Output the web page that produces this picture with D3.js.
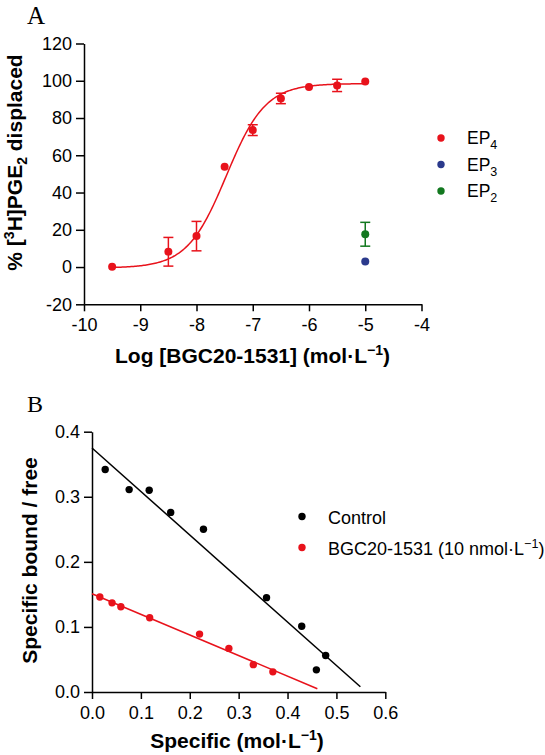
<!DOCTYPE html>
<html><head><meta charset="utf-8">
<script src="https://cdn.jsdelivr.net/npm/d3@7"></script>
<style>body{margin:0;background:#fff}svg{display:block}</style>
</head><body>
<script>
// ---- Panel A data ----
const ep4LogConc = [-9.5, -8.5, -8, -7.5, -7, -6.5, -6, -5.5, -5];
const ep4Mean    = [0.2, 8.2, 16.6, 53.8, 73.5, 90.5, 96.6, 97.5, 99.6];
const ep4Err     = [0, 7.7, 7.9, 0, 2.9, 2.8, 0, 3.3, 0];
const ep3LogConc = [-5];
const ep3Mean    = [3];
const ep3Err     = [0];
const ep2LogConc = [-5];
const ep2Mean    = [17.6];
const ep2Err     = [6.4];
// 4-parameter logistic fit for EP4 (bottom, top, logEC50, Hill)
const fitA = {bottom: -0.5, top: 98.5, logEC50: -7.47, hill: 1.25, xmin: -9.5, xmax: -5};
const xTicksA = [-10, -9, -8, -7, -6, -5, -4];
const yTicksA = [-20, 0, 20, 40, 60, 80, 100, 120];

// ---- Panel B data ----
const controlX = [0.027, 0.076, 0.117, 0.161, 0.228, 0.357, 0.429, 0.478, 0.459];
const controlY = [0.342, 0.311, 0.310, 0.276, 0.250, 0.145, 0.101, 0.056, 0.034];
const bgcX = [0.016, 0.041, 0.059, 0.118, 0.220, 0.280, 0.330, 0.370];
const bgcY = [0.146, 0.137, 0.131, 0.114, 0.089, 0.067, 0.042, 0.031];
const controlLine = {x: [0, 0.549], y: [0.375, 0.008]};
const bgcLine = {x: [0, 0.461], y: [0.151, 0.005]};
const xTicksB = [0, 0.1, 0.2, 0.3, 0.4, 0.5, 0.6];
const yTicksB = [0, 0.1, 0.2, 0.3, 0.4];

const RED = "#e8121b", BLUE = "#2b3a8c", GREEN = "#12781f", BLACK = "#000";
const FONT = "'Liberation Sans', Arial, sans-serif";
const SERIF = "'Liberation Serif', 'Times New Roman', serif";

const svg = d3.select("body").append("svg").attr("width", 545).attr("height", 755)
  .style("font-family", FONT);

function styleAxis(g) {
  g.selectAll("path.domain").attr("stroke", "#000").attr("stroke-width", 1.5);
  g.selectAll(".tick line").attr("stroke", "#000").attr("stroke-width", 1.5);
  g.selectAll(".tick text").attr("font-size", 18).attr("font-family", FONT).attr("fill", "#000");
}
const minus = d => d < 0 ? "-" + Math.abs(d) : String(d);

// ================= Panel A =================
const xA = d3.scaleLinear().domain([-10, -4]).range([84, 421.5]);
const yA = d3.scaleLinear().domain([-20, 120]).range([304.3, 43.5]);

svg.append("text").attr("x", 27).attr("y", 23.5).attr("font-family", SERIF)
  .attr("font-size", 25).text("A");

const gxA = svg.append("g").attr("transform", `translate(0,${yA(-20)})`)
  .call(d3.axisBottom(xA).tickValues(xTicksA).tickSize(7).tickPadding(7).tickSizeOuter(0));
styleAxis(gxA);
gxA.selectAll(".tick text").text(minus);
const gyA = svg.append("g").attr("transform", `translate(${xA(-10)},0)`)
  .call(d3.axisLeft(yA).tickValues(yTicksA).tickSize(8).tickPadding(4).tickSizeOuter(0));
styleAxis(gyA);
gyA.selectAll(".tick text").text(minus);

// fitted curve
const curvePts = d3.range(0, 201).map(i => {
  const x = fitA.xmin + (fitA.xmax - fitA.xmin) * i / 200;
  const y = fitA.bottom + (fitA.top - fitA.bottom) / (1 + Math.pow(10, (fitA.logEC50 - x) * fitA.hill));
  return [x, y];
});
svg.append("path").attr("d", d3.line().x(d => xA(d[0])).y(d => yA(d[1]))(curvePts))
  .attr("fill", "none").attr("stroke", RED).attr("stroke-width", 1.5);

function drawSeriesA(xs, ms, es, color) {
  const data = xs.map((x, i) => ({x, m: ms[i], e: es[i]}));
  const g = svg.append("g");
  data.filter(d => d.e > 0).forEach(d => {
    const cx = xA(d.x);
    g.append("line").attr("x1", cx).attr("x2", cx).attr("y1", yA(d.m - d.e)).attr("y2", yA(d.m + d.e))
      .attr("stroke", color).attr("stroke-width", 1.5);
    [d.m - d.e, d.m + d.e].forEach(v => g.append("line").attr("x1", cx - 5).attr("x2", cx + 5)
      .attr("y1", yA(v)).attr("y2", yA(v)).attr("stroke", color).attr("stroke-width", 1.5));
  });
  g.selectAll("circle").data(data).join("circle")
    .attr("cx", d => xA(d.x)).attr("cy", d => yA(d.m)).attr("r", 4).attr("fill", color);
}
drawSeriesA(ep4LogConc, ep4Mean, ep4Err, RED);
drawSeriesA(ep3LogConc, ep3Mean, ep3Err, BLUE);
drawSeriesA(ep2LogConc, ep2Mean, ep2Err, GREEN);

// legend A
const legA = [{c: RED, s: "4"}, {c: BLUE, s: "3"}, {c: GREEN, s: "2"}];
legA.forEach((d, i) => {
  const y = 138 + i * 26.5;
  svg.append("circle").attr("cx", 441).attr("cy", y).attr("r", 3.7).attr("fill", d.c);
  const t = svg.append("text").attr("x", 467).attr("y", y + 6).attr("font-size", 17.5);
  t.append("tspan").text("EP");
  t.append("tspan").attr("font-size", 12.5).attr("dy", 5).text(d.s);
});

// axis titles A
svg.append("text").attr("x", 252.5).attr("y", 363).attr("text-anchor", "middle")
  .attr("font-size", 21).attr("font-weight", "bold")
  .call(t => {
    t.append("tspan").text("Log [BGC20-1531] (mol·L");
    t.append("tspan").attr("font-size", 14).attr("dy", -8).text("−1");
    t.append("tspan").attr("dy", 8).text(")");
  });
svg.append("text").attr("transform", `translate(22,162.5) rotate(-90)`).attr("text-anchor", "middle")
  .attr("font-size", 21).attr("font-weight", "bold")
  .call(t => {
    t.append("tspan").text("% [");
    t.append("tspan").attr("font-size", 14).attr("dy", -8).text("3");
    t.append("tspan").attr("dy", 8).text("H]PGE");
    t.append("tspan").attr("font-size", 14).attr("dy", 5).text("2");
    t.append("tspan").attr("dy", -5).text(" displaced");
  });

// ================= Panel B =================
const xB = d3.scaleLinear().domain([0, 0.6]).range([92, 385.3]);
const yB = d3.scaleLinear().domain([0, 0.4]).range([692, 431.7]);

svg.append("text").attr("x", 27).attr("y", 412).attr("font-family", SERIF)
  .attr("font-size", 24).text("B");

const gxB = svg.append("g").attr("transform", `translate(0,${yB(0)})`)
  .call(d3.axisBottom(xB).tickValues(xTicksB).tickSize(7).tickPadding(7).tickFormat(d3.format(".1f")).tickSizeOuter(0));
styleAxis(gxB);
const gyB = svg.append("g").attr("transform", `translate(${xB(0)},0)`)
  .call(d3.axisLeft(yB).tickValues(yTicksB).tickSize(8).tickPadding(4).tickFormat(d3.format(".1f")).tickSizeOuter(0));
styleAxis(gyB);

function drawLineB(l, color) {
  svg.append("line").attr("x1", xB(l.x[0])).attr("y1", yB(l.y[0])).attr("x2", xB(l.x[1])).attr("y2", yB(l.y[1]))
    .attr("stroke", color).attr("stroke-width", 1.5);
}
drawLineB(controlLine, BLACK);
drawLineB(bgcLine, RED);

function drawPtsB(xs, ys, color) {
  svg.append("g").selectAll("circle").data(xs.map((x, i) => [x, ys[i]])).join("circle")
    .attr("cx", d => xB(d[0])).attr("cy", d => yB(d[1])).attr("r", 3.7).attr("fill", color);
}
drawPtsB(controlX, controlY, BLACK);
drawPtsB(bgcX, bgcY, RED);

// legend B
svg.append("circle").attr("cx", 302).attr("cy", 516.5).attr("r", 3.7).attr("fill", BLACK);
svg.append("text").attr("x", 328).attr("y", 524).attr("font-size", 18).text("Control");
svg.append("circle").attr("cx", 302).attr("cy", 547.5).attr("r", 3.7).attr("fill", RED);
svg.append("text").attr("x", 328).attr("y", 555).attr("font-size", 18)
  .call(t => {
    t.append("tspan").text("BGC20-1531 (10 nmol·L");
    t.append("tspan").attr("font-size", 12.5).attr("dy", -7).text("−1");
    t.append("tspan").attr("dy", 7).text(")");
  });

// axis titles B
svg.append("text").attr("x", 237).attr("y", 748).attr("text-anchor", "middle")
  .attr("font-size", 21).attr("font-weight", "bold")
  .call(t => {
    t.append("tspan").text("Specific (mol·L");
    t.append("tspan").attr("font-size", 14).attr("dy", -8).text("−1");
    t.append("tspan").attr("dy", 8).text(")");
  });
svg.append("text").attr("transform", `translate(37,560.5) rotate(-90)`).attr("text-anchor", "middle")
  .attr("font-size", 21).attr("font-weight", "bold").text("Specific bound / free");
</script>
</body></html>
